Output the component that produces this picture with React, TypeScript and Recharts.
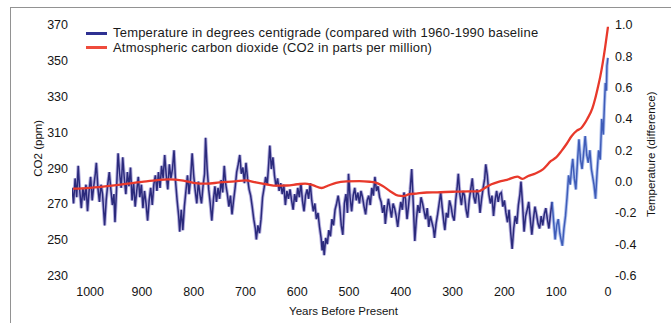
import { LineChart, Line, XAxis, YAxis, Legend, Label } from 'recharts';

// temperature anomaly (°C vs 1960-1990), years before present
const tempYears = [
  1035, 1032, 1029, 1026, 1023, 1020, 1017, 1014, 1011, 1008, 1005, 1002, 999, 996, 993, 990, 988, 985, 982, 979,
  976, 972, 969, 966, 963, 960, 957, 954, 952, 949, 946, 943, 940, 937, 934, 931, 928, 925, 922, 919,
  916, 913, 910, 907, 904, 901, 898, 895, 892, 889, 886, 883, 880, 877, 874, 871, 868, 865, 862, 859,
  856, 853, 850, 847, 844, 841, 838, 835, 832, 829, 827, 824, 821, 818, 815, 812, 809, 806, 803, 800,
  797, 794, 791, 788, 785, 782, 779, 777, 774, 771, 768, 765, 762, 759, 756, 753, 750, 747, 744, 741,
  738, 735, 732, 729, 726, 723, 720, 717, 714, 711, 708, 705, 702, 699, 696, 693, 690, 687, 684, 681,
  679, 676, 673, 670, 667, 664, 661, 658, 655, 653, 650, 647, 644, 641, 638, 635, 632, 629, 626, 623,
  620, 617, 614, 611, 608, 605, 602, 599, 596, 593, 590, 587, 584, 581, 578, 575, 572, 569, 566, 563,
  560, 557, 554, 552, 550, 548, 545, 542, 539, 536, 533, 530, 527, 524, 521, 518, 515, 512, 509, 506,
  503, 501, 498, 495, 492, 489, 486, 483, 480, 477, 474, 471, 468, 465, 462, 459, 456, 453, 450, 447,
  444, 441, 438, 435, 432, 430, 427, 424, 421, 418, 415, 412, 409, 406, 403, 400, 397, 394, 391, 388,
  385, 382, 379, 376, 373, 370, 367, 364, 361, 358, 355, 352, 349, 346, 343, 340, 337, 335, 332, 329,
  326, 323, 320, 317, 315, 312, 309, 306, 303, 300, 297, 294, 291, 289, 286, 283, 280, 277, 274, 271,
  268, 265, 262, 259, 256, 253, 250, 247, 244, 241, 238, 236, 233, 230, 227, 224, 221, 218, 215, 212,
  209, 206, 203, 200, 197, 194, 191, 188, 185, 182, 179, 176, 173, 170, 168, 165, 162, 159, 156, 153,
  150, 147, 144, 141, 138, 135, 132, 129, 126, 123, 120, 117, 114, 111, 108, 105, 102, 99, 96, 93,
  90, 88, 85, 82, 79, 76, 73, 70, 68, 65, 62, 59, 56, 53, 50, 47, 44, 41, 38, 35,
  32, 30, 27, 24, 21, 18, 15, 12, 9, 7, 5, 3, 2, 0,
];
const tempValues = [
  -0.04, -0.14, 0.02, -0.1, 0.1, -0.06, -0.17, -0.04, -0.12, -0.02, -0.19, -0.06, 0.03, -0.12, -0.03, 0.05, 0.12, -0.04, -0.13, -0.02,
  -0.08, -0.28, -0.12, -0.02, 0.06, -0.05, -0.15, -0.08, -0.26, -0.05, 0.18, 0.05, -0.04, 0.155, 0.02, -0.08, 0.06, -0.03, 0.09, -0.12,
  -0.01, -0.16, -0.06, 0.03, -0.1, -0.02, -0.17, -0.06, -0.14, -0.25, -0.12, -0.04, -0.15, -0.02, 0.04, -0.06, 0.06, -0.04, 0.1, 0.02,
  0.17, 0.04, -0.05, 0.11, 0.02, 0.08, 0.2, 0.0, -0.12, -0.22, -0.32, -0.18, -0.31, -0.16, -0.06, 0.04, -0.08, 0.02, 0.18, 0.04,
  -0.06, -0.14, 0.0, -0.08, -0.14, -0.03, 0.05, 0.28, 0.08, -0.05, -0.14, -0.25, -0.12, -0.03, -0.13, -0.04, -0.11, 0.01, -0.07, 0.1,
  -0.02, -0.08, -0.16, -0.09, -0.21, -0.12, -0.04, 0.06, 0.11, 0.17, 0.05, 0.09, -0.01, 0.12, 0.02, -0.05, -0.09, -0.16, -0.24, -0.3,
  -0.37, -0.28, -0.33, -0.24, -0.1, -0.04, 0.03, -0.02, 0.12, 0.23, 0.08, 0.155, 0.04, -0.03, 0.02, -0.06, -0.01, -0.08, -0.02, -0.15,
  -0.06, -0.11, -0.05, -0.12, -0.18, -0.08, -0.13, -0.04, -0.1, -0.01, -0.12, -0.19, -0.09, -0.05, -0.11, -0.01, -0.12, -0.19, -0.14, -0.24,
  -0.2, -0.29, -0.36, -0.44, -0.38, -0.47, -0.36, -0.4, -0.31, -0.35, -0.24, -0.28, -0.18, -0.14, -0.09, -0.16, -0.28, -0.34, -0.14, -0.08,
  -0.2, 0.05, -0.1, -0.19, -0.09, -0.04, -0.12, -0.07, -0.14, -0.06, -0.1, -0.16, -0.21, -0.12, -0.09, -0.15, -0.04, -0.09, 0.03, -0.06,
  -0.03, -0.1, -0.13, -0.2, -0.15, -0.27, -0.18, -0.11, -0.17, -0.23, -0.14, -0.17, -0.22, -0.29, -0.2, -0.13, -0.18, -0.07, -0.11, -0.24,
  -0.15, -0.05, 0.08, -0.14, -0.38, -0.24, -0.15, -0.2, -0.1, -0.14, -0.19, -0.24, -0.17, -0.29, -0.22, -0.26, -0.3, -0.36, -0.27, -0.21,
  -0.14, -0.07, -0.17, -0.26, -0.31, -0.2, -0.23, -0.12, -0.16, -0.22, -0.25, -0.12, -0.03, 0.05, -0.08, -0.15, -0.06, -0.09, -0.18, -0.23,
  -0.12, -0.05, 0.02, -0.1, -0.14, -0.05, -0.09, -0.2, -0.11, -0.04, 0.02, 0.11, 0.04, -0.08, -0.14, -0.09, -0.22, -0.12, -0.06, -0.13,
  -0.08, -0.07, -0.16, -0.12, -0.2, -0.26, -0.18, -0.32, -0.43, -0.3, -0.22, -0.27, -0.15, -0.08, 0.0, -0.14, -0.32, -0.22, -0.18, -0.13,
  -0.24, -0.34, -0.24, -0.16, -0.21, -0.27, -0.3, -0.22, -0.28, -0.21, -0.17, -0.24, -0.3, -0.21, -0.13, -0.25, -0.37, -0.28, -0.24, -0.33,
  -0.38, -0.41, -0.3, -0.22, -0.1, 0.04, -0.02, 0.09, 0.145, 0.02, -0.05, 0.12, 0.27, 0.14, 0.08, 0.18, 0.29, 0.17, 0.12, 0.2,
  0.08, 0.04, -0.02, -0.11, 0.06, 0.2, 0.14, 0.4, 0.3, 0.48, 0.63, 0.58, 0.74, 0.79,
];

// atmospheric CO2 (ppm)
const co2Years = [
  1033, 1000, 950, 900, 870, 850, 820, 800, 775, 750, 720, 700, 680, 660, 640, 620, 600, 585, 570, 553,
  540, 525, 505, 480, 460, 450, 435, 420, 405, 395, 385, 370, 350, 330, 300, 270, 250, 240, 225, 210,
  195, 175, 165, 155, 140, 125, 110, 100, 90, 80, 70, 60, 52, 45, 40, 30, 25, 20, 15, 10, 5, 0,
];
const co2Values = [
  278.5, 279.0, 280.5, 282.3, 283.3, 283.7, 283.0, 281.8, 281.3, 282.0, 282.6, 283.2, 282.0, 281.0, 280.2, 280.3, 281.0, 281.4, 280.5, 278.9,
  280.3, 281.8, 282.6, 282.8, 282.4, 282.0, 280.0, 277.0, 274.6, 274.4, 275.3, 275.8, 276.4, 276.5, 276.8, 277.0, 277.0, 278.5, 281.0, 282.5,
  283.5, 285.3, 284.0, 285.5, 287.0, 289.5, 294.0, 296.0, 299.5, 303.5, 308.0, 311.0, 312.3, 315.0, 317.5, 323.5, 328.5, 334.5, 341.0, 349.0, 358.5, 369.0,
];

const yearTicks = [1000, 900, 800, 700, 600, 500, 400, 300, 200, 100, 0];
const co2Ticks = [230, 250, 270, 290, 310, 330, 350, 370];
const tempTicks = [-0.6, -0.4, -0.2, 0, 0.2, 0.4, 0.6, 0.8, 1.0];

const legendItems = [
  { label: 'Temperature in degrees centigrade (compared with 1960-1990 baseline', color: '#2e3192' },
  { label: 'Atmospheric carbon dioxide (CO2 in parts per million)', color: '#ef4b3c' },
];

const SPLIT_YEAR = 108;
const tempRows = tempYears.map((year, i) => ({ year, temp: tempValues[i] }));
const tempOld = tempRows.filter((r) => r.year >= SPLIT_YEAR);
const tempNew = tempRows.filter((r) => r.year <= SPLIT_YEAR);
const co2Rows = co2Years.map((year, i) => ({ year, co2: co2Values[i] }));

const FONT = '"Liberation Sans", Arial, Helvetica, sans-serif';
const tickStyle = { fill: '#151515', fontSize: 12.5, fontFamily: FONT };
const titleStyle = { fill: '#151515', fontSize: 11.5, fontFamily: FONT };

function ChartLegend() {
  return (
    <div style={{ fontFamily: FONT }}>
      {legendItems.map((item) => (
        <div key={item.label} style={{ display: 'flex', alignItems: 'center', height: 14.3 }}>
          <span style={{ display: 'inline-block', width: 21, height: 3, background: item.color, marginRight: 6 }} />
          <span style={{ fontSize: 13, letterSpacing: 0.2, color: '#1a1a1a', lineHeight: '14px', whiteSpace: 'nowrap' }}>
            {item.label}
          </span>
        </div>
      ))}
    </div>
  );
}

export default function App() {
  return (
    <div
      style={{
        position: 'absolute',
        left: 0,
        top: 0,
        width: 671,
        height: 323,
        overflow: 'hidden',
        background: '#fff',
      }}
    >
      <div
        style={{
          position: 'absolute',
          left: 10,
          top: 7,
          width: 720,
          height: 400,
          border: '1px solid #929292',
        }}
      />
      <div style={{ position: 'absolute', left: 0, top: 0 }}>
        <LineChart width={671} height={323} margin={{ top: 25, right: 12, bottom: 7.5, left: 32 }}>
          <XAxis
            dataKey="year"
            type="number"
            domain={[-2, 1035]}
            reversed
            ticks={yearTicks}
            axisLine={false}
            tickLine={false}
            tickSize={0}
            tickMargin={12}
            height={40}
            tick={tickStyle}
            allowDataOverflow
          >
            <Label
              content={({ viewBox }: any) => (
                <text
                  x={viewBox.x + viewBox.width / 2 + 3}
                  y={viewBox.y + 39}
                  textAnchor="middle"
                  style={titleStyle}
                >
                  Years Before Present
                </text>
              )}
            />
          </XAxis>
          <YAxis
            yAxisId="co2"
            orientation="left"
            domain={[230, 370]}
            ticks={co2Ticks}
            width={40}
            axisLine={false}
            tickLine={false}
            tickSize={0}
            tickMargin={4}
            tick={tickStyle}
            allowDataOverflow
          >
            <Label
              content={({ viewBox }: any) => {
                const cx = viewBox.x + 6;
                const cy = viewBox.y + viewBox.height / 2 - 2;
                return (
                  <text x={cx} y={cy} transform={`rotate(-90, ${cx}, ${cy})`} textAnchor="middle" dominantBaseline="central" style={titleStyle}>
                    CO2 (ppm)
                  </text>
                );
              }}
            />
          </YAxis>
          <YAxis
            yAxisId="temp"
            orientation="right"
            domain={[-0.6, 1.0]}
            ticks={tempTicks}
            tickFormatter={(v: number) => v.toFixed(1)}
            width={50}
            axisLine={false}
            tickLine={false}
            tickSize={0}
            tickMargin={6}
            tick={tickStyle}
            allowDataOverflow
          >
            <Label
              content={({ viewBox }: any) => {
                const cx = viewBox.x + 42;
                const cy = viewBox.y + viewBox.height / 2 + 4;
                return (
                  <text x={cx} y={cy} transform={`rotate(-90, ${cx}, ${cy})`} textAnchor="middle" dominantBaseline="central" style={titleStyle}>
                    Temperature (difference)
                  </text>
                );
              }}
            />
          </YAxis>
          <Legend
            layout="horizontal"
            verticalAlign="middle"
            align="center"
            content={() => <ChartLegend />}
            wrapperStyle={{ left: 86, top: 26.3, width: 520, height: 30 }}
          />
          <Line
            yAxisId="temp"
            data={tempOld}
            dataKey="temp"
            type="linear"
            stroke="#b3aedd"
            strokeWidth={3.4}
            dot={false}
            legendType="none"
            isAnimationActive={false}
          />
          <Line
            yAxisId="temp"
            data={tempNew}
            dataKey="temp"
            type="linear"
            stroke="#b0c2ee"
            strokeWidth={3.4}
            dot={false}
            legendType="none"
            isAnimationActive={false}
          />
          <Line
            yAxisId="temp"
            data={tempOld}
            dataKey="temp"
            type="linear"
            stroke="#2b2a7c"
            strokeWidth={1.5}
            dot={false}
            isAnimationActive={false}
          />
          <Line
            yAxisId="temp"
            data={tempNew}
            dataKey="temp"
            type="linear"
            stroke="#3f5cb8"
            strokeWidth={1.5}
            dot={false}
            isAnimationActive={false}
          />
          <Line
            yAxisId="co2"
            data={co2Rows}
            dataKey="co2"
            type="monotone"
            stroke="#e8392b"
            strokeWidth={2.3}
            dot={false}
            isAnimationActive={false}
          />
        </LineChart>
      </div>
    </div>
  );
}
